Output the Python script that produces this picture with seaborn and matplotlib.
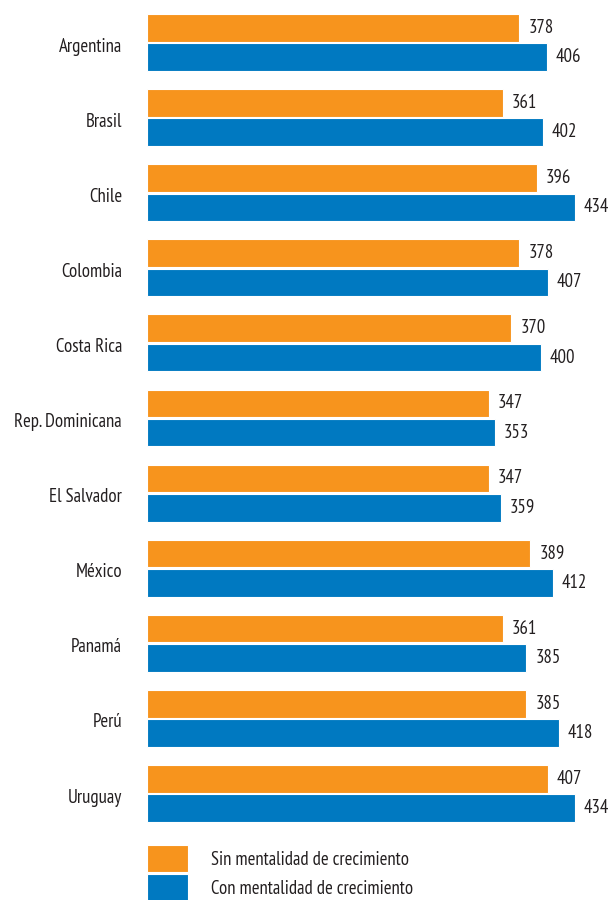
import matplotlib
matplotlib.use("Agg")
import matplotlib.pyplot as plt
import matplotlib.transforms as mtransforms
import seaborn as sns
import pandas as pd
from matplotlib.patches import Patch

paises = ["Argentina", "Brasil", "Chile", "Colombia", "Costa Rica",
          "Rep. Dominicana", "El Salvador", "México", "Panamá", "Perú", "Uruguay"]
sin_mentalidad = [378, 361, 396, 378, 370, 347, 347, 389, 361, 385, 407]
con_mentalidad = [406, 402, 434, 407, 400, 353, 359, 412, 385, 418, 434]
series = ["Sin mentalidad de crecimiento", "Con mentalidad de crecimiento"]
colores = ["#F7941D", "#0079C1"]

df = pd.DataFrame({
    "pais": paises * 2,
    "grupo": [series[0]] * len(paises) + [series[1]] * len(paises),
    "puntaje": sin_mentalidad + con_mentalidad,
})

sns.set_theme(style="white")
plt.rcParams["font.family"] = ["PT Sans Narrow", "DejaVu Sans"]
plt.rcParams["text.color"] = "#231F20"

FS = 13.5
fs_px = FS * 100 / 72

fig = plt.figure(figsize=(6.1, 9.0), dpi=100)
ax = fig.add_axes([147 / 610, 70 / 900, 463 / 610, 830 / 900])

sns.barplot(data=df, y="pais", x="puntaje", hue="grupo", orient="h",
            palette=colores, saturation=1, width=0.78, gap=0.06,
            edgecolor="white", linewidth=0.8, legend=False, ax=ax)

# nudge texts slightly downward so they sit on the optical centre of the bars
shift = mtransforms.ScaledTranslation(0, -2 / 100, fig.dpi_scale_trans)

for cont in ax.containers:
    for t in ax.bar_label(cont, padding=6.5, fontsize=FS, color="#231F20"):
        t.set_transform(t.get_transform() + mtransforms.ScaledTranslation(0, -1.5 / 100, fig.dpi_scale_trans))

ax.set_xlim(0, 470)
ax.set_ylim(10.486, -0.566)
ax.set_xlabel("")
ax.set_ylabel("")
ax.set_xticks([])
ax.tick_params(axis="y", length=0, pad=18, labelsize=FS, labelcolor="#231F20")
for lbl in ax.get_yticklabels():
    lbl.set_transform(lbl.get_transform() + shift)
sns.despine(ax=ax, left=True, bottom=True)

handles = [Patch(facecolor=c, edgecolor="white", linewidth=0.8) for c in colores]
fig.legend(handles, series, loc="upper left",
           bbox_to_anchor=(147 / 610, 1 - 845 / 900),
           frameon=False, fontsize=FS, borderpad=0, borderaxespad=0,
           handlelength=41 / fs_px,
           handleheight=(27 / fs_px - 0.245) / 0.65,
           handletextpad=23 / fs_px, labelspacing=2 / fs_px)

fig.savefig("out.png", dpi=100)
